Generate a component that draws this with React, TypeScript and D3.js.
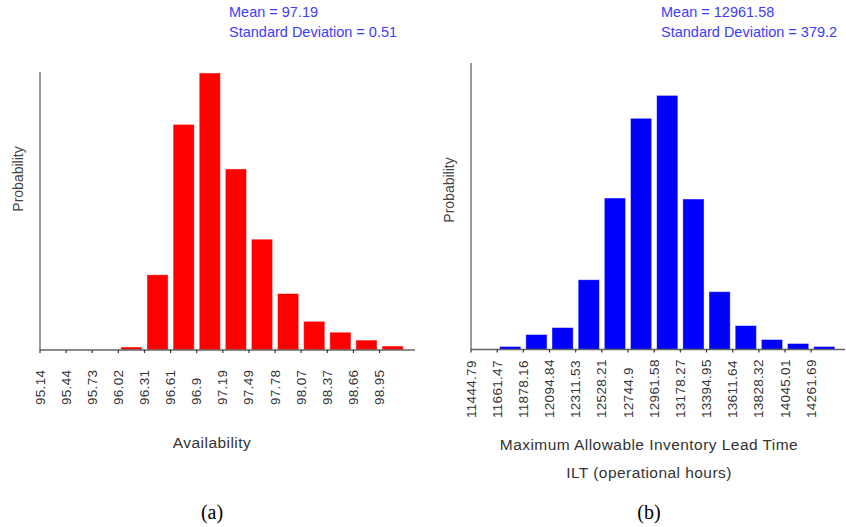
import React from "react";
import * as d3 from "d3";

const availLabels = ["95.14","95.44","95.73","96.02","96.31","96.61","96.9","97.19","97.49","97.78","98.07","98.37","98.66","98.95"];
const availProb = [0, 0, 0, 0.003, 0.076, 0.228, 0.280, 0.183, 0.112, 0.057, 0.029, 0.018, 0.010, 0.004];
const availMean = "97.19";
const availSd = "0.51";

const iltLabels = ["11444.79","11661.47","11878.16","12094.84","12311.53","12528.21","12744.9","12961.58","13178.27","13394.95","13611.64","13828.32","14045.01","14261.69"];
const iltProb = [0, 0.003, 0.015, 0.022, 0.070, 0.152, 0.232, 0.255, 0.151, 0.058, 0.024, 0.010, 0.006, 0.003];
const iltMean = "12961.58";
const iltSd = "379.2";

type PanelProps = {
  labels: string[];
  values: number[];
  yMax: number;
  color: string;
  x0: number;
  step: number;
  axisEnd: number;
  yTop: number;
  yBase: number;
  labelBottom: number;
  statsX: number;
  mean: string;
  sd: string;
  yLabelX: number;
  yLabelY: number;
  xTitles: { text: string; y: number }[];
  xTitleCx: number;
  caption: string;
};

const SANS = "'Liberation Sans', Arial, sans-serif";

function Panel(p: PanelProps) {
  const n = p.labels.length;
  const x = d3.scaleLinear().domain([0, n]).range([p.x0, p.x0 + n * p.step]);
  const y = d3.scaleLinear().domain([0, p.yMax]).range([p.yBase, p.yTop]);
  const bw = p.step;
  return (
    <g>
      <text x={p.statsX} y={17} fill="#3c3cff" fontFamily={SANS} fontSize={14.5}>Mean = {p.mean}</text>
      <text x={p.statsX} y={37} fill="#3c3cff" fontFamily={SANS} fontSize={14.5}>Standard Deviation = {p.sd}</text>
      {p.values.map((v, i) =>
        v > 0 ? (
          <rect key={i} x={x(i) + 2.5} width={bw - 5} y={y(v)} height={p.yBase - y(v)} fill={p.color} stroke="#fff" strokeOpacity={0.5} strokeWidth={0.8} />
        ) : null
      )}
      <line x1={p.x0} x2={p.x0} y1={p.yTop} y2={p.yBase} stroke="#777" strokeWidth={1.5} />
      <line x1={p.x0} x2={p.axisEnd} y1={p.yBase} y2={p.yBase} stroke="#666" strokeWidth={1.5} />
      {p.labels.map((l, i) => (
        <g key={l}>
          <line x1={x(i)} x2={x(i)} y1={p.yBase} y2={p.yBase + 3} stroke="#333" strokeWidth={1.2} />
          <text transform={`translate(${x(i) + 4.5},${p.labelBottom}) rotate(-90)`} textAnchor="start" fill="#333" fontFamily={SANS} fontSize={13.5} letterSpacing={0.3}>{l}</text>
        </g>
      ))}
      <text transform={`translate(${p.yLabelX},${p.yLabelY}) rotate(-90)`} textAnchor="middle" fill="#444" fontFamily={SANS} fontSize={14}>Probability</text>
      {p.xTitles.map((t) => (
        <text key={t.text} x={p.xTitleCx} y={t.y} textAnchor="middle" fill="#333" fontFamily={SANS} fontSize={15.5} letterSpacing={0.45}>{t.text}</text>
      ))}
      <text x={p.xTitleCx} y={519} textAnchor="middle" fill="#000" fontFamily="'Liberation Serif', 'Times New Roman', serif" fontSize={20}>{p.caption}</text>
    </g>
  );
}

export default function App() {
  return (
    <svg width={846} height={527} style={{ position: "absolute", left: 0, top: 0, background: "#fff" }}>
      <rect width={846} height={527} fill="#fff" />
      <Panel
        labels={availLabels}
        values={availProb}
        yMax={0.281}
        color="#ff0000"
        x0={40}
        step={26.12}
        axisEnd={415}
        yTop={72}
        yBase={350}
        labelBottom={405}
        statsX={229}
        mean={availMean}
        sd={availSd}
        yLabelX={23}
        yLabelY={179}
        xTitles={[{ text: "Availability", y: 448 }]}
        xTitleCx={212}
        caption="(a)"
      />
      <Panel
        labels={iltLabels}
        values={iltProb}
        yMax={0.2875}
        color="#0000ff"
        x0={471}
        step={26.17}
        axisEnd={845}
        yTop={63}
        yBase={349.5}
        labelBottom={418}
        statsX={661}
        mean={iltMean}
        sd={iltSd}
        yLabelX={454}
        yLabelY={190}
        xTitles={[
          { text: "Maximum Allowable Inventory Lead Time", y: 450 },
          { text: "ILT (operational hours)", y: 478 },
        ]}
        xTitleCx={649}
        caption="(b)"
      />
    </svg>
  );
}
